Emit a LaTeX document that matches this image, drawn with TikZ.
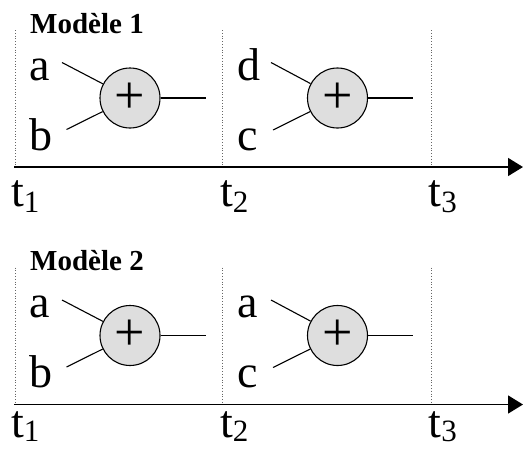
\documentclass[tikz,border=0pt]{standalone}
\usepackage{fontspec}
\setmainfont{Liberation Serif}
\usetikzlibrary{arrows.meta}
\tikzset{
  lbl/.style={anchor=base west, inner sep=0pt, font=\fontsize{46}{50}\selectfont},
  ttl/.style={anchor=base west, inner sep=0pt, font=\fontsize{29}{32}\selectfont\bfseries},
  adder/.style={circle, draw, line width=1.1pt, fill=black!13, minimum size=60pt, inner sep=0pt},
  plus/.style={inner sep=0pt, font=\fontsize{54}{56}\selectfont},
  wire/.style={line width=1.1pt},
  tick/.style={draw=black!60, dotted, line width=0.8pt},
  axis/.style={line width=1.6pt, -{Triangle[length=15pt,width=18pt]}},
}
\newcommand{\tlab}[2]{t\raisebox{-#2}{\fontsize{31}{31}\selectfont #1}}
\begin{document}
\begin{tikzpicture}[x=1pt,y=-1pt]
\useasboundingbox (0,0) rectangle (523,448);
% ---------- Model 1 ----------
\node[ttl] (title1) at (30,33) {Modèle 1};
\coordinate (v11t) at (15,30);    \coordinate (v11b) at (15,167);
\coordinate (v12t) at (222.5,30); \coordinate (v12b) at (222.5,167);
\coordinate (v13t) at (431,30);   \coordinate (v13b) at (431,167);
\draw[tick] (v11t) -- (v11b);
\draw[tick] (v12t) -- (v12b);
\draw[tick] (v13t) -- (v13b);
\coordinate (ax1s) at (14,167); \coordinate (ax1e) at (523,167);
\draw[axis] (ax1s) -- (ax1e);
\node[adder] (s11) at (130,98) {};
\node[adder] (s12) at (337.5,98) {};
\node[plus] (p11) at (s11.center) {+};
\node[plus] (p12) at (s12.center) {+};
\node[lbl] (a11) at (29,80) {a};
\node[lbl] (b11) at (29,150) {b};
\node[lbl] (d12) at (237,80) {d};
\node[lbl] (c12) at (237,150) {c};
\coordinate (i11a) at (62,62.5);  \coordinate (i11b) at (66.5,129.5);
\coordinate (i12a) at (271,62.5); \coordinate (i12b) at (273,130);
\coordinate (o11) at (205.5,98);  \coordinate (o12) at (413,98);
\draw[wire] (i11a) -- (s11);
\draw[wire] (i11b) -- (s11);
\draw[wire] (s11.east) -- (o11);
\draw[wire] (i12a) -- (s12);
\draw[wire] (i12b) -- (s12);
\draw[wire] (s12.east) -- (o12);
\node[lbl] (t11) at (11,206) {\tlab{1}{6pt}};
\node[lbl] (t12) at (220,206) {\tlab{2}{6pt}};
\node[lbl] (t13) at (428.5,206) {\tlab{3}{6pt}};
% ---------- Model 2 ----------
\begin{scope}[yshift=-237.5pt]
\node[ttl] (title2) at (30,33) {Modèle 2};
\coordinate (v21t) at (15,30);    \coordinate (v21b) at (15,167);
\coordinate (v22t) at (222.5,30); \coordinate (v22b) at (222.5,167);
\coordinate (v23t) at (431,30);   \coordinate (v23b) at (431,167);
\draw[tick] (v21t) -- (v21b);
\draw[tick] (v22t) -- (v22b);
\draw[tick] (v23t) -- (v23b);
\coordinate (ax2s) at (14,167); \coordinate (ax2e) at (523,167);
\draw[axis] (ax2s) -- (ax2e);
\node[adder] (s21) at (130,98) {};
\node[adder] (s22) at (337.5,98) {};
\node[plus] (p21) at (s21.center) {+};
\node[plus] (p22) at (s22.center) {+};
\node[lbl] (a21) at (29,80) {a};
\node[lbl] (b21) at (29,150) {b};
\node[lbl] (a22) at (237,80) {a};
\node[lbl] (c22) at (237,150) {c};
\coordinate (i21a) at (62,62.5);  \coordinate (i21b) at (66.5,129.5);
\coordinate (i22a) at (271,62.5); \coordinate (i22b) at (273,130);
\coordinate (o21) at (205.5,98);  \coordinate (o22) at (413,98);
\draw[wire] (i21a) -- (s21);
\draw[wire] (i21b) -- (s21);
\draw[wire] (s21.east) -- (o21);
\draw[wire] (i22a) -- (s22);
\draw[wire] (i22b) -- (s22);
\draw[wire] (s22.east) -- (o22);
\node[lbl] (t21) at (11,199.5) {\tlab{1}{4pt}};
\node[lbl] (t22) at (220,199.5) {\tlab{2}{4pt}};
\node[lbl] (t23) at (428.5,199.5) {\tlab{3}{4pt}};
\end{scope}
\end{tikzpicture}
\end{document}
